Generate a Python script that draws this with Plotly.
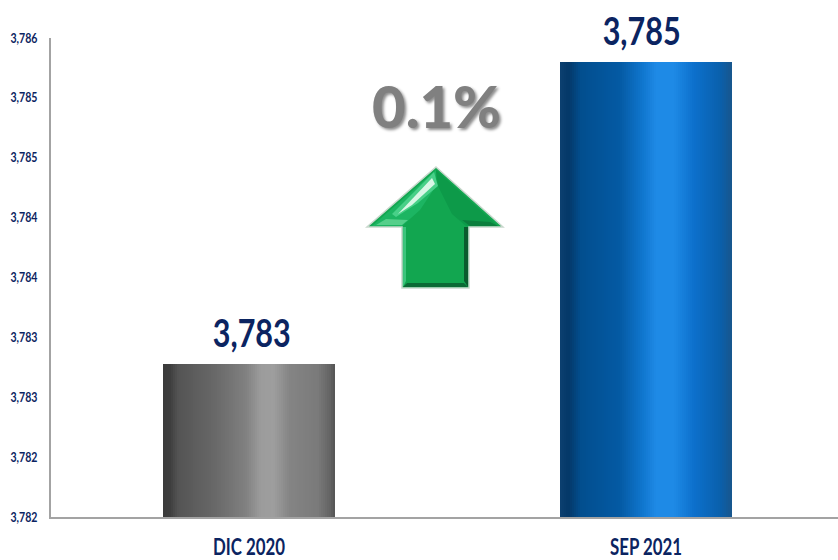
import plotly.graph_objects as go

categories = ["DIC 2020", "SEP 2021"]
values = [3783.28, 3785.8]
value_labels = ["3,783", "3,785"]
label_positions = [0.007, 0.989]
tick_values = [3782, 3782.5, 3783, 3783.5, 3784, 3784.5, 3785, 3785.5, 3786]
tick_labels = ["3,782", "3,782", "3,783", "3,783", "3,784", "3,784", "3,785", "3,785", "3,786"]
change_label = "0.1%"

W, H = 838, 560
L, R, T, B = 51, 838, 38, 517
NAVY = "#0b2461"
FONT = "Lato"

grey_stops = [(0, (58, 58, 58)), (.04, (62, 62, 62)), (.09, (84, 84, 84)), (.3, (104, 104, 104)), (.48, (128, 128, 128)),
              (.57, (156, 156, 156)), (.64, (158, 158, 158)), (.74, (132, 132, 132)), (.9, (122, 122, 122)), (.97, (100, 100, 100)), (1, (84, 84, 84))]
blue_stops = [(0, (12, 64, 112)), (.05, (4, 56, 104)), (.12, (2, 78, 142)), (.35, (4, 90, 164)), (.48, (16, 118, 206)),
              (.56, (30, 138, 230)), (.66, (30, 138, 230)), (.78, (12, 112, 204)), (.93, (10, 96, 172)), (1, (24, 86, 140))]


def ramp(stops, t):
    for (a, ca), (b, cb) in zip(stops, stops[1:]):
        if t <= b:
            f = (t - a) / (b - a)
            return "rgb(%d,%d,%d)" % tuple(round(x + (y - x) * f) for x, y in zip(ca, cb))
    return "rgb(%d,%d,%d)" % stops[-1][1]


fig = go.Figure()
BAR_W = 172 / 397
N = 86
for i in range(N):
    t = (i + .5) / N
    fig.add_bar(x=[0, 1], y=values, base=0,
                offset=-BAR_W / 2 + BAR_W * i / N,
                width=BAR_W / N * (1.4 if i < N - 1 else 1),
                marker=dict(color=[ramp(grey_stops, t), ramp(blue_stops, t)], line_width=0),
                hoverinfo="skip", showlegend=False)

# transparent markers lift the labels off the bar tops
fig.add_scatter(x=label_positions, y=values, mode="markers+text", text=value_labels, textposition="top center",
                marker=dict(size=10, opacity=0),
                textfont=dict(family=FONT, size=39, color=NAVY, weight=700),
                cliponaxis=False, showlegend=False, hoverinfo="skip")


def px(x, y):
    return "%.4f %.4f" % ((x - L) / (R - L), (B - y) / (B - T))


def poly(points, fill, line=None, lw=0):
    path = "M " + " L ".join(px(*p) for p in points) + " Z"
    return dict(type="path", xref="paper", yref="paper", path=path, fillcolor=fill,
                line=dict(color=line or fill, width=lw), layer="above")


arrow = [(436, 167), (503, 227), (469, 227), (469, 288), (402, 288), (402, 227), (367, 227)]
shapes = [
    poly(arrow, "#12a650", "#c9d8cd", 1.5),
    poly([(436, 170), (372, 226), (402, 226), (420, 210), (436, 186)], "#1cb562"),
    poly([(436, 170), (498, 226), (466, 226), (452, 214), (438, 186)], "#0d9a49"),
    poly([(470, 226), (498, 226), (490, 222), (462, 220)], "#0b7f3d"),
    poly([(376, 225), (402, 225), (408, 220), (386, 219)], "#55cf8a"),
    poly([(434, 172), (438, 186), (418, 203), (396, 217), (392, 214)], "#48d088"),
    poly([(432, 178), (435, 184), (412, 205), (398, 214)], "#d9f7e6"),
    poly([(464, 227), (468, 227), (468, 287), (464, 281)], "#0a5c2e"),
    poly([(403, 227), (406, 227), (406, 281), (403, 287)], "#3cc47c"),
    poly([(403, 287), (407, 283), (464, 283), (468, 287)], "#0b6a35"),
]

fig.add_annotation(xref="paper", yref="paper", x=(436 - L) / (R - L), y=(B - 105) / (B - T),
                   text=change_label, showarrow=False, xanchor="center", yanchor="middle",
                   font=dict(family="Lato", size=58, color="#808080", weight=900,
                             shadow="2px 2px 3px rgba(0,0,0,0.45)"))

fig.update_layout(
    width=W, height=H, autosize=False, barmode="overlay", bargap=0,
    margin=dict(l=L, r=W - R, t=T, b=H - B, pad=0),
    paper_bgcolor="white", plot_bgcolor="white", shapes=shapes,
    xaxis=dict(range=[(L - 249) / 397, (R - 249) / 397], tickmode="array", tickvals=[0, 1],
               ticktext=categories, showgrid=False, zeroline=False, ticks="",
               tickfont=dict(family=FONT, size=23, color=NAVY, weight=700),
               showline=True, linecolor="#a3a3a3", linewidth=2, ticklabelstandoff=8),
    yaxis=dict(range=[3782, 3786], tickmode="array", tickvals=tick_values, ticktext=tick_labels,
               showgrid=False, zeroline=False, ticks="",
               tickfont=dict(family=FONT, size=13, color=NAVY, weight=700),
               showline=True, linecolor="#a3a3a3", linewidth=2, ticklabelstandoff=9),
)
# Calibri-like condensed proportions: squeeze the real text elements horizontally.
post = """
document.body.style.margin='0';document.body.style.overflow='hidden';
function squeeze(sel,len){document.querySelectorAll(sel).forEach(function(t){
  t.setAttribute('textLength',len);t.setAttribute('lengthAdjust','spacingAndGlyphs');});}
squeeze('.textpoint text',78);squeeze('.xtick text',72);squeeze('.ytick text',27);
"""
fig.write_html("out.html", config=dict(displayModeBar=False), post_script=post)
